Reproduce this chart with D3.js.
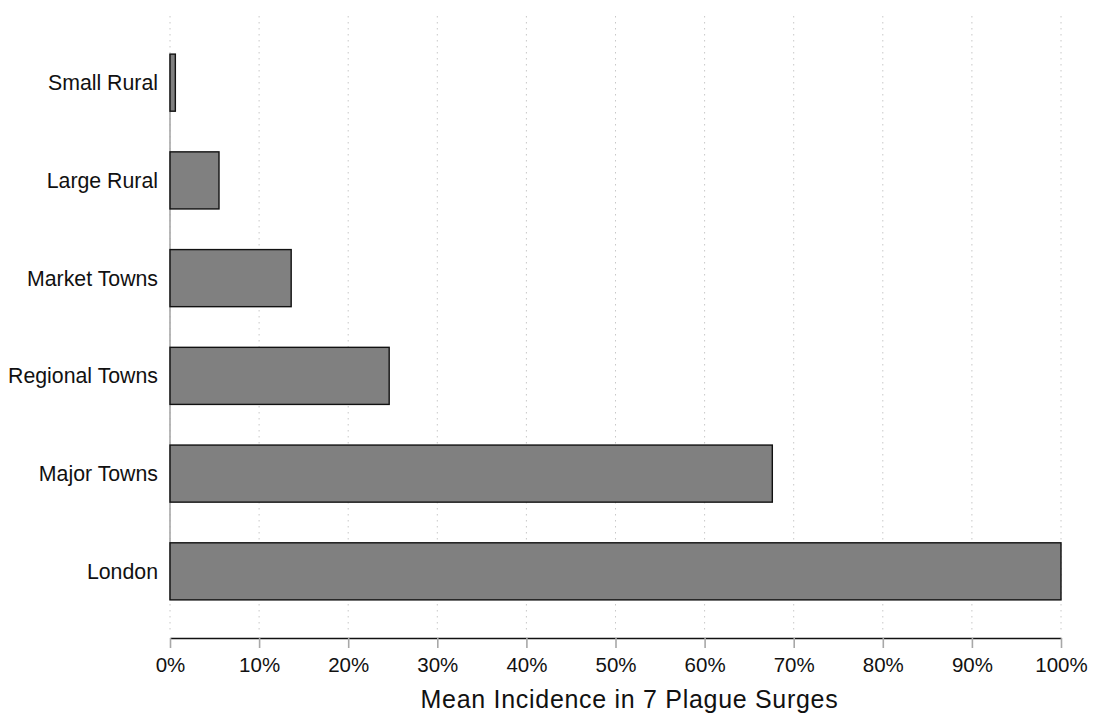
<!DOCTYPE html>
<html>
<head>
<meta charset="utf-8">
<script src="https://cdn.jsdelivr.net/npm/d3@7/dist/d3.min.js"></script>
<style>
  html, body { margin: 0; padding: 0; background: #fff; }
  svg { display: block; font-family: "Liberation Sans", Arial, Helvetica, sans-serif; }
</style>
</head>
<body>
<svg id="chart" width="1095" height="718"></svg>
<script>
// Settlement categories, top to bottom
const categories = ["Small Rural", "Large Rural", "Market Towns", "Regional Towns", "Major Towns", "London"];
// Mean incidence (%) across the 7 plague surges
const incidence = [0.6, 5.5, 13.6, 24.6, 67.6, 100];
// X-axis ticks (%)
const xTicks = [0, 10, 20, 30, 40, 50, 60, 70, 80, 90, 100];
const xTitle = "Mean Incidence in 7 Plague Surges";

const svg = d3.select("#chart");
const plotLeft = 170, plotRight = 1061, plotTop = 16, axisY = 638;

const x = d3.scaleLinear().domain([0, 100]).range([plotLeft, plotRight]);
const y = d3.scaleBand().domain(categories).range([plotTop, axisY])
  .paddingInner(0.416).paddingOuter(0.39);

// Dotted vertical gridlines
svg.append("g").selectAll("line").data(xTicks).join("line")
  .attr("x1", d => x(d)).attr("x2", d => x(d))
  .attr("y1", plotTop).attr("y2", axisY - 6)
  .attr("stroke", "#c8c8c8").attr("stroke-width", 1)
  .attr("stroke-dasharray", "1.5,4.5");

// Gray baseline spanning the bars
svg.append("line")
  .attr("x1", x(0)).attr("x2", x(0))
  .attr("y1", y(categories[0])).attr("y2", y(categories[categories.length - 1]) + y.bandwidth())
  .attr("stroke", "#a8a8a8").attr("stroke-width", 1.6);

// Bars
svg.append("g").selectAll("rect").data(categories).join("rect")
  .attr("x", x(0))
  .attr("y", d => y(d))
  .attr("width", (d, i) => x(incidence[i]) - x(0))
  .attr("height", y.bandwidth())
  .attr("fill", "#808080")
  .attr("stroke", "#111").attr("stroke-width", 1.4);

// Category labels
svg.append("g").selectAll("text").data(categories).join("text")
  .attr("x", 158)
  .attr("y", d => y(d) + y.bandwidth() / 2)
  .attr("dy", "0.35em")
  .attr("text-anchor", "end")
  .attr("font-size", 21.3)
  .attr("fill", "#111")
  .text(d => d);

// X axis
const xAxis = d3.axisBottom(x).tickValues(xTicks).tickFormat(d => d + "%").tickSize(10).tickSizeOuter(0).tickPadding(9);
const gx = svg.append("g").attr("transform", `translate(0,${axisY})`).call(xAxis);
gx.select(".domain").attr("stroke", "#111").attr("stroke-width", 1.4);
gx.selectAll(".tick line").attr("stroke", "#a8a8a8").attr("stroke-width", 1.6);
gx.selectAll(".tick text").attr("font-size", 20.5).attr("fill", "#111")
  .attr("font-family", "\"Liberation Sans\", Arial, Helvetica, sans-serif");

// Axis title
svg.append("text")
  .attr("x", (plotLeft + plotRight) / 2 + 14)
  .attr("y", 708)
  .attr("text-anchor", "middle")
  .attr("font-size", 25)
  .attr("letter-spacing", 0.7)
  .attr("fill", "#111")
  .text(xTitle);
</script>
</body>
</html>
